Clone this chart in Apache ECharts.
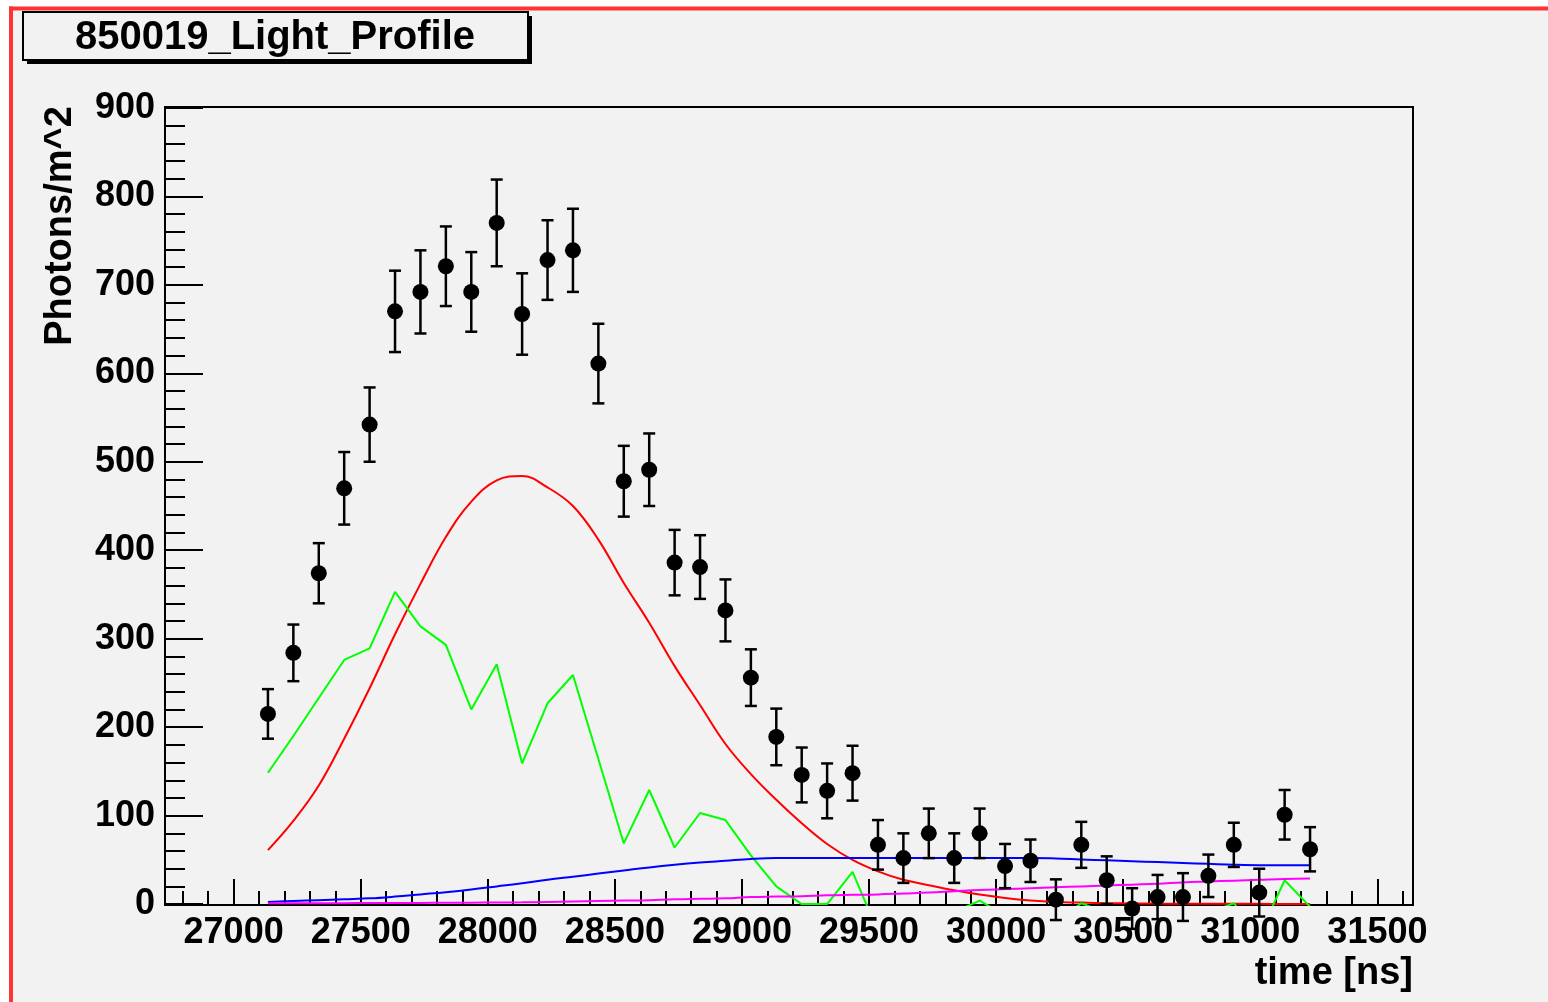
<!DOCTYPE html>
<html>
<head>
<meta charset="utf-8">
<title>850019_Light_Profile</title>
<script src="https://cdn.jsdelivr.net/npm/echarts@6/dist/echarts.min.js"></script>
<style>
  html, body { margin: 0; padding: 0; background: #ffffff; }
  #chart { width: 1548px; height: 1002px; }
</style>
</head>
<body>
<div id="chart"></div>
<script>
// Bin centres of the light profile [ns]
const times = [27135, 27235, 27335, 27435, 27535, 27635, 27735, 27835, 27935, 28035,
               28135, 28235, 28335, 28435, 28535, 28635, 28735, 28835, 28935, 29035,
               29135, 29235, 29335, 29435, 29535, 29635, 29735, 29835, 29935, 30035,
               30135, 30235, 30335, 30435, 30535, 30635, 30735, 30835, 30935, 31035,
               31135, 31235];

// Measured photon density [photons/m^2] and its uncertainty
const photons = [215, 284, 374, 470, 542, 670, 692, 721, 692, 770,
                 667, 728, 739, 611, 478, 491, 386, 381, 332, 256,
                 189, 146, 128, 148, 67, 52, 80, 52, 80, 43,
                 49, 5, 67, 27, -5, 8, 8, 32, 67, 13,
                 101, 62];
const photonErr = [28, 32, 34, 41, 42, 46, 47, 45, 45, 49,
                   46, 45, 47, 45, 40, 41, 37, 36, 35, 32,
                   32, 31, 31, 31, 28, 28, 28, 28, 28, 25,
                   24, 23, 26, 27, 23, 25, 27, 24, 25, 27,
                   28, 25];

// Model components
const fitRed = [61, 94, 134, 187, 244, 305, 362, 415, 455, 479,
                484, 471, 450, 412, 363, 318, 269, 225, 181, 147,
                118, 91.5, 68, 50, 37, 27.5, 21.4, 15.7, 10.8, 6.9,
                4, 2.3, 1.7, 1.1, 0.8, 0.6, 0.5, 0.4, 0.3, 0.3,
                0.2, 0.2];
const fitGreen = [148.5, 190, 233, 276, 289, 353, 314, 293, 220, 271,
                  159, 227, 259, 164, 68.6, 129, 64, 103, 95, 55,
                  20, 0, 0, 36.5, -31, -20, -20, -9, 4, -13,
                  -20, -20, 1, -10, -20, -20, -20, -10, 1, -35,
                  27, -3];
const fitBlue = [2.5, 3.5, 4.5, 5.5, 6.5, 8.5, 11, 13.5, 16.5, 20,
                 23.5, 27.5, 31, 34.5, 38, 41.5, 44.5, 47, 49, 51,
                 52, 52, 52, 52, 52, 52, 52, 52, 52, 52,
                 52, 51.7, 50.5, 49.5, 48.5, 47.5, 46.5, 45.5, 44.5, 44,
                 44, 44];
const fitMagenta = [1, 1, 1, 1.1, 1.2, 1.3, 1.4, 1.5, 1.6, 1.8,
                    2, 2.5, 3, 3.5, 4, 4.5, 5.5, 6, 6.5, 8,
                    8.5, 9, 10, 10.5, 11, 12, 13, 14.5, 16, 17,
                    18, 19, 20, 21, 22, 23, 24.5, 25.5, 26.5, 27.5,
                    28.5, 29];

// Axis ticks and labels
const xMajorTicks = [27000, 27500, 28000, 28500, 29000, 29500, 30000, 30500, 31000, 31500];
const yMajorTicks = [0, 100, 200, 300, 400, 500, 600, 700, 800, 900];

const X_MIN = 26730, X_MAX = 31640;
const Y_MIN = -1, Y_MAX = 901;

const xMinorTicks = [];
for (let t = 26800; t <= 31600; t += 100) xMinorTicks.push(t);
const yMinorTicks = [];
for (let v = 0; v <= 900; v += 20) yMinorTicks.push(v);

const FONT = '"Liberation Sans", Arial, Helvetica, sans-serif';
const zip = (ys) => times.map((t, i) => [t, ys[i]]);
const plain = (v) => String(v);

const chart = echarts.init(document.getElementById('chart'), null, { renderer: 'canvas' });

const tickStyle = { color: '#000', width: 2 };

chart.setOption({
  backgroundColor: '#f2f2f2',
  animation: false,
  grid: {
    left: 165, right: 135, top: 107, bottom: 97,
    show: true, borderColor: '#000', borderWidth: 2,
    backgroundColor: 'transparent'
  },
  xAxis: [
    {
      type: 'value', min: X_MIN, max: X_MAX, position: 'bottom',
      axisLine: { show: true, onZero: false, lineStyle: tickStyle },
      axisTick: { show: true, inside: true, length: 26, lineStyle: tickStyle, customValues: xMajorTicks },
      axisLabel: {
        customValues: xMajorTicks, formatter: plain, color: '#000', fontFamily: FONT,
        fontWeight: 'bold', fontSize: 36, margin: 10
      },
      splitLine: { show: false }
    },
    {
      type: 'value', min: X_MIN, max: X_MAX, position: 'bottom',
      axisLine: { show: false },
      axisTick: { show: true, inside: true, length: 13, lineStyle: tickStyle, customValues: xMinorTicks },
      axisLabel: { show: false, customValues: xMinorTicks },
      splitLine: { show: false }
    }
  ],
  yAxis: [
    {
      type: 'value', min: Y_MIN, max: Y_MAX, position: 'left',
      axisLine: { show: true, onZero: false, lineStyle: tickStyle },
      axisTick: { show: true, inside: true, length: 38, lineStyle: tickStyle, customValues: yMajorTicks },
      axisLabel: {
        customValues: yMajorTicks, formatter: plain, color: '#000', fontFamily: FONT,
        fontWeight: 'bold', fontSize: 36, margin: 10
      },
      splitLine: { show: false }
    },
    {
      type: 'value', min: Y_MIN, max: Y_MAX, position: 'left',
      axisLine: { show: false },
      axisTick: { show: true, inside: true, length: 20, lineStyle: tickStyle, customValues: yMinorTicks },
      axisLabel: { show: false, customValues: yMinorTicks },
      splitLine: { show: false }
    }
  ],
  graphic: [
    // page margin outside the red outline
    { type: 'rect', shape: { x: 0, y: 0, width: 1548, height: 6.5 }, style: { fill: '#ffffff' }, silent: true },
    { type: 'rect', shape: { x: 0, y: 0, width: 9, height: 1002 }, style: { fill: '#ffffff' }, silent: true },
    { type: 'line', shape: { x1: 9, y1: 8.5, x2: 1548, y2: 8.5 }, style: { stroke: '#ff3333', lineWidth: 4 }, silent: true },
    { type: 'line', shape: { x1: 11, y1: 6.5, x2: 11, y2: 1002 }, style: { stroke: '#ff3333', lineWidth: 4 }, silent: true },
    // title box with drop shadow
    { type: 'rect', shape: { x: 27, y: 16, width: 505, height: 48 }, style: { fill: '#000' }, silent: true },
    { type: 'rect', shape: { x: 23, y: 12, width: 505, height: 48 }, style: { fill: '#f2f2f2', stroke: '#000', lineWidth: 2 }, silent: true },
    {
      type: 'text', x: 275, y: 38, silent: true,
      style: {
        text: '850019_Light_Profile', fill: '#000', font: 'bold 40px ' + FONT,
        align: 'center', verticalAlign: 'middle'
      }
    },
    // axis titles
    {
      type: 'text', x: 61, y: 226, rotation: Math.PI / 2, silent: true,
      style: {
        text: 'Photons/m^2', fill: '#000', font: 'bold 38px ' + FONT,
        align: 'center', verticalAlign: 'middle'
      }
    },
    {
      type: 'text', x: 1413, y: 974, silent: true,
      style: {
        text: 'time [ns]', fill: '#000', font: 'bold 38px ' + FONT,
        align: 'right', verticalAlign: 'middle'
      }
    }
  ],
  series: [
    {
      name: 'red', type: 'line', data: zip(fitRed), smooth: 0.4,
      showSymbol: false, lineStyle: { color: '#ff0000', width: 2 }, z: 2
    },
    {
      name: 'green', type: 'line', data: zip(fitGreen), smooth: false,
      showSymbol: false, lineStyle: { color: '#00ff00', width: 2 }, z: 2
    },
    {
      name: 'blue', type: 'line', data: zip(fitBlue), smooth: 0.4,
      showSymbol: false, lineStyle: { color: '#0000ff', width: 2 }, z: 2
    },
    {
      name: 'magenta', type: 'line', data: zip(fitMagenta), smooth: 0.4,
      showSymbol: false, lineStyle: { color: '#ff00ff', width: 2 }, z: 2
    },
    {
      name: 'errors', type: 'custom', clip: false, z: 4,
      data: times.map((t, i) => [t, photons[i] - photonErr[i], photons[i] + photonErr[i]]),
      encode: { x: 0, y: [1, 2] },
      renderItem: function (params, api) {
        const t = api.value(0);
        const lo = api.coord([t, api.value(1)]);
        const hi = api.coord([t, api.value(2)]);
        const w = 6;
        const st = { stroke: '#000', lineWidth: 2.5 };
        return {
          type: 'group',
          children: [
            { type: 'line', shape: { x1: lo[0], y1: lo[1], x2: hi[0], y2: hi[1] }, style: st },
            { type: 'line', shape: { x1: lo[0] - w, y1: lo[1], x2: lo[0] + w, y2: lo[1] }, style: st },
            { type: 'line', shape: { x1: hi[0] - w, y1: hi[1], x2: hi[0] + w, y2: hi[1] }, style: st }
          ]
        };
      }
    },
    {
      name: 'data', type: 'scatter', data: zip(photons), symbol: 'circle',
      symbolSize: 16, clip: false, itemStyle: { color: '#000', opacity: 1 }, z: 5
    }
  ]
});
</script>
</body>
</html>
